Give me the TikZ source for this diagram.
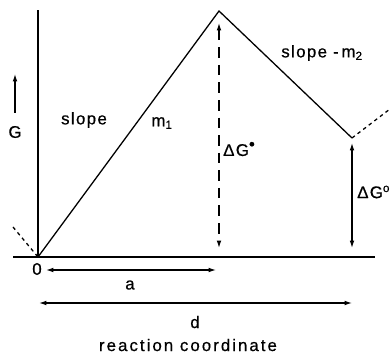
\documentclass[tikz,border=0pt]{standalone}
\usepackage{fontspec}
\setmainfont{Liberation Sans}[LetterSpace=8,FakeBold=0.6]
\usetikzlibrary{arrows.meta}
\tikzset{
  curve/.style={line width=1.1pt},
  dimarrow/.style={line width=1pt, {Latex[length=2.2mm,width=1.4mm]}-{Latex[length=2.2mm,width=1.4mm]}},
  longdash/.style={dash pattern=on 9pt off 6pt}
}

\begin{document}
\begin{tikzpicture}[x=0.03cm,y=0.03cm,font=\Large]
      \useasboundingbox (0,0) rectangle (391,360);
      % axes
      \coordinate (O) at (38,103);
      \coordinate (ytop) at (38,350);
      \coordinate (xleft) at (13,103);
      \coordinate (xright) at (375,103);
      \draw[curve] (O)--(ytop);
      \draw[curve] (xleft)--(xright);

      % free energy profile
      \coordinate (TS) at (219,349);
      \coordinate (P) at (352,222);
      \coordinate (Pnext) at (390,251);
      \coordinate (Oprev) at (13,133);
      \draw[curve] (O)--(TS)--(P);
      \draw[curve, dashed] (P)--(Pnext);
      \draw[curve, dashed] (Oprev)--(O);

      % barrier heights
      \coordinate (TStop) at (219,337);
      \coordinate (TSbot) at (219,112);
      \coordinate (Ptop) at (352,217);
      \coordinate (Pbot) at (352,112);
      \draw[dimarrow, longdash] (TStop)--(TSbot);
      \draw[dimarrow] (Ptop)--(Pbot);
      \node[anchor=west, inner sep=0pt] (dGts) at (223,211) {ΔG\textsuperscript{\Large•}};
      \node[anchor=west, inner sep=0pt] (dGo) at (357,168) {ΔG\textsuperscript{o}};

      % G arrow
      \coordinate (Glow) at (15,247);
      \coordinate (Ghigh) at (15,286);
      \draw[line width=1pt, -{Latex[length=2.2mm,width=1.4mm]}] (Glow)--(Ghigh);
      \node (G) at (15,228) {G};

      % slopes
      \node (slope1) at (84,240) {slope};
      \node (m1) at (162,237) {m\textsubscript{1}};
      \node (slope2) at (322,307) {slope -\,m\textsubscript{2}};

      % distances
      \node (zero) at (37,91) {0};
      \coordinate (aleft) at (46,90);
      \coordinate (aright) at (216,90);
      \draw[dimarrow] (aleft)--(aright);
      \node (a) at (130,75) {a};
      \coordinate (dleft) at (39,57);
      \coordinate (dright) at (352,57);
      \draw[dimarrow] (dleft)--(dright);
      \node (d) at (195,38) {d};
      \node[font=\Large\addfontfeatures{LetterSpace=12}] (xlabel) at (188,15) {reaction coordinate};
    \end{tikzpicture}
\end{document}
